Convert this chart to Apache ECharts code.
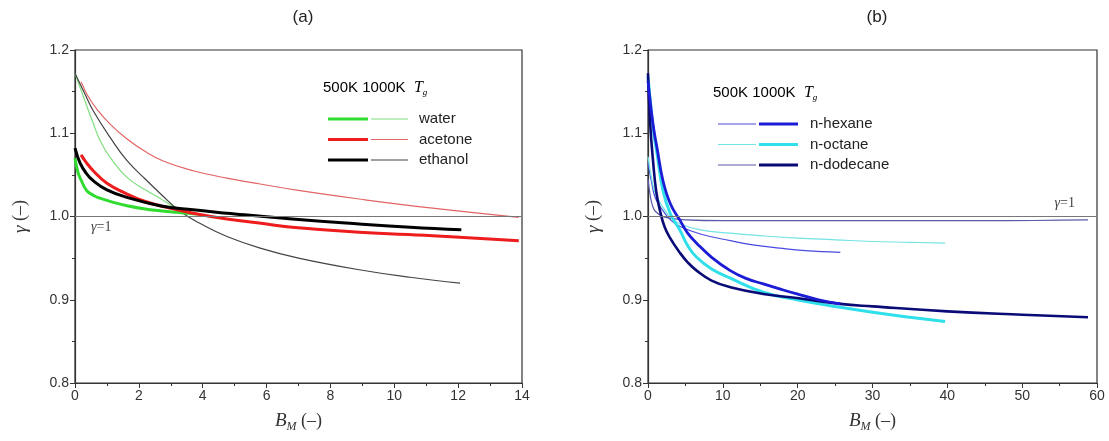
<!DOCTYPE html>
<html>
<head>
<meta charset="utf-8">
<script src="https://cdn.jsdelivr.net/npm/echarts@6/dist/echarts.min.js"></script>
<style>
  html, body { margin: 0; padding: 0; background: #fff; }
  #chart { width: 1109px; height: 441px; }
</style>
</head>
<body>
<div id="chart"></div>
<script>
// ---------- Panel (a) data : [B_M, gamma] ----------
const water500 = [[0,1.070],[0.1,1.052],[0.2,1.043],[0.37,1.031],[0.6,1.025],[0.78,1.022],[1.2,1.017],[1.63,1.013],[2.2,1.009],[2.66,1.007],[3.2,1.005],[3.8,1.003]];
const water1000 = [[0,1.172],[0.3,1.140],[0.57,1.112],[0.8,1.090],[1.1,1.071],[1.63,1.047],[2.2,1.032],[2.66,1.022],[3.0,1.014],[3.4,1.007],[3.9,1.001]];
const acetone500 = [[0.19,1.074],[0.35,1.065],[0.57,1.055],[1,1.040],[1.63,1.027],[2.2,1.018],[2.66,1.013],[3.7,1.004],[4.76,0.997],[6,0.991],[6.8,0.987],[8.9,0.981],[11.2,0.977],[13.9,0.971]];
const acetone1000 = [[0.19,1.162],[0.4,1.145],[0.7,1.128],[1.1,1.111],[1.6,1.094],[2.2,1.078],[2.8,1.066],[3.7,1.055],[4.76,1.046],[5.8,1.039],[7.05,1.031],[8.9,1.021],[11.2,1.010],[13.9,0.999]];
const ethanol500 = [[0,1.082],[0.16,1.064],[0.35,1.052],[0.57,1.043],[1,1.032],[1.63,1.023],[2.66,1.013],[3.7,1.008],[4.76,1.004],[6.8,0.997],[8.9,0.991],[10.5,0.987],[12.1,0.984]];
const ethanol1000 = [[0,1.172],[0.3,1.148],[0.57,1.127],[1.1,1.095],[1.63,1.067],[2.2,1.045],[2.66,1.028],[3.3,1.006],[4,0.990],[4.76,0.976],[5.8,0.962],[7,0.950],[8.9,0.936],[10.5,0.927],[12.06,0.920]];

// ---------- Panel (b) data ----------
const hexane500 = [[0,1.065],[0.5,1.040],[1,1.022],[2,1.007],[3,0.996],[4.3,0.988],[7,0.979],[11,0.971],[14,0.966],[17.6,0.962],[21,0.959],[25.7,0.957]];
const octane500 = [[0,1.072],[0.5,1.045],[1,1.027],[2,1.011],[3,0.999],[4.3,0.991],[7,0.984],[11,0.980],[15,0.977],[20,0.974],[25,0.972],[30,0.970],[35,0.969],[39.7,0.968]];
const dodecane500 = [[0,1.045],[0.3,1.025],[0.6,1.013],[1,1.006],[2,1.000],[3,0.998],[5,0.996],[10,0.995],[20,0.995],[30,0.995],[45,0.995],[58.8,0.996]];
const hexane1000 = [[0,1.163],[0.4,1.130],[0.8,1.103],[1.2,1.083],[2,1.043],[3,1.015],[4.3,0.995],[5.3,0.980],[6.5,0.968],[8.5,0.951],[11,0.935],[13,0.926],[15.4,0.919],[17.6,0.913],[19.9,0.907],[22.8,0.900],[25.7,0.895]];
const octane1000 = [[0,1.168],[0.4,1.130],[0.8,1.098],[1.2,1.076],[2,1.031],[3,1.003],[4.3,0.983],[5.3,0.965],[6.5,0.951],[8.5,0.937],[11,0.926],[15.4,0.909],[19.9,0.900],[25.7,0.891],[30,0.885],[35,0.879],[39.7,0.874]];
const dodecane1000 = [[0,1.172],[0.3,1.110],[0.7,1.064],[1.1,1.030],[1.6,1.007],[2.2,0.988],[2.9,0.975],[4.3,0.956],[5.3,0.945],[6.5,0.935],[8.5,0.923],[11,0.915],[15.4,0.907],[19.9,0.902],[25.7,0.895],[30,0.892],[40,0.886],[50,0.882],[58.8,0.879]];

// ---------- Labels ----------
const panelTitles = ['(a)', '(b)'];
const legendHeader = '500K 1000K';
const speciesA = ['water', 'acetone', 'ethanol'];
const speciesB = ['n-hexane', 'n-octane', 'n-dodecane'];

const tickFont = 'Liberation Sans, Arial, sans-serif';
const serif = 'Liberation Serif, Times New Roman, serif';

function mkSeries(name, data, gi, color, width, z) {
  return {
    name: name, type: 'line', xAxisIndex: gi, yAxisIndex: gi,
    data: data, showSymbol: false, symbol: 'none',
    smooth: 0.45,
    lineStyle: { color: color, width: width },
    itemStyle: { color: color },
    z: z, silent: true
  };
}

function refLine(pos) {
  return {
    silent: true, symbol: ['none', 'none'],
    lineStyle: { color: '#777', width: 1, type: 'solid' },
    label: {
      show: true, position: pos, distance: pos === 'insideStartBottom' ? [16, 4] : [22, 6],
      formatter: '{g|γ}{e|=1}',
      rich: {
        g: { fontFamily: serif, fontStyle: 'italic', fontSize: 14, color: '#444' },
        e: { fontFamily: serif, fontSize: 14, color: '#444' }
      }
    },
    data: [{ yAxis: 1 }]
  };
}

const series = [
  mkSeries('water 1000K', water1000, 0, '#7ede7e', 1.2, 2),
  mkSeries('acetone 1000K', acetone1000, 0, '#e26464', 1.2, 2),
  mkSeries('ethanol 1000K', ethanol1000, 0, '#444444', 1.2, 2),
  mkSeries('water 500K', water500, 0, '#2fdc2f', 3, 3),
  mkSeries('acetone 500K', acetone500, 0, '#ee1c1c', 3, 3),
  mkSeries('ethanol 500K', ethanol500, 0, '#000000', 3, 4),
  mkSeries('n-hexane 500K', hexane500, 1, '#4a4ae0', 1.2, 2),
  mkSeries('n-octane 500K', octane500, 1, '#72e4e4', 1.2, 2),
  mkSeries('n-dodecane 500K', dodecane500, 1, '#5a5aa8', 1.2, 2),
  mkSeries('n-octane 1000K', octane1000, 1, '#2fdfea', 3, 3),
  mkSeries('n-dodecane 1000K', dodecane1000, 1, '#0b0b78', 2.6, 3),
  mkSeries('n-hexane 1000K', hexane1000, 1, '#1c1cd6', 2.8, 4)
];
series[0].markLine = refLine('insideStartBottom');
series[6].markLine = refLine('insideEndTop');

function xAx(gi, max, interval) {
  return {
    gridIndex: gi, type: 'value', min: 0, max: max, interval: interval,
    name: '{b|B}{m|M}{n| (–)}', nameLocation: 'middle', nameGap: 26,
    nameTextStyle: {
      rich: {
        b: { fontFamily: serif, fontStyle: 'italic', fontSize: 19, color: '#333' },
        m: { fontFamily: serif, fontStyle: 'italic', fontSize: 12, color: '#333', verticalAlign: 'bottom', padding: [12, 0, 0, 0] },
        n: { fontFamily: serif, fontSize: 18, color: '#333' }
      }
    },
    axisLine: { show: true, onZero: false, lineStyle: { color: '#333', width: 1.2 } },
    axisTick: { show: true, length: 5, lineStyle: { color: '#333' } },
    minorTick: { show: true, splitNumber: 2, length: 3, lineStyle: { color: '#333' } },
    splitLine: { show: false },
    axisLabel: { fontFamily: tickFont, fontSize: 14, color: '#333', margin: 6 }
  };
}
function yAx(gi) {
  return {
    gridIndex: gi, type: 'value', min: 0.8, max: 1.2, interval: 0.1,
    name: '{g|γ}{n| (–)}', nameLocation: 'middle', nameGap: 45, nameRotate: 90,
    nameTextStyle: {
      rich: {
        g: { fontFamily: serif, fontStyle: 'italic', fontSize: 19, color: '#333' },
        n: { fontFamily: serif, fontSize: 18, color: '#333' }
      }
    },
    axisLine: { show: true, onZero: false, lineStyle: { color: '#333', width: 1.2 } },
    axisTick: { show: true, length: 5, lineStyle: { color: '#333' } },
    minorTick: { show: true, splitNumber: 2, length: 3, lineStyle: { color: '#333' } },
    splitLine: { show: false },
    axisLabel: { fontFamily: tickFont, fontSize: 14, color: '#333', margin: 6,
      formatter: v => v.toFixed(1) }
  };
}

function legendPair(names500, names1000, left500, left1000, top, thickFirst) {
  const rowText = { fontFamily: tickFont, fontSize: 15, color: '#222', lineHeight: 17 };
  return [
    {
      data: names500, orient: 'vertical', left: left500, top: top,
      icon: 'rect', itemWidth: thickFirst ? 40 : 38, itemHeight: thickFirst ? 3 : 1.2,
      itemGap: 3.5, formatter: () => ' ', textStyle: rowText,
      selectedMode: false
    },
    {
      data: names1000, orient: 'vertical', left: left1000, top: top,
      icon: 'rect', itemWidth: thickFirst ? 37 : 39, itemHeight: thickFirst ? 1.2 : 3,
      itemGap: 3.5, formatter: n => n.replace(' 1000K', ''),
      textStyle: Object.assign({ padding: [0, 0, 0, thickFirst ? 6 : 7] }, rowText),
      selectedMode: false
    }
  ];
}

const legends = [].concat(
  legendPair(speciesA.map(s => s + ' 500K'), speciesA.map(s => s + ' 1000K'), 323, 366, 105.5, true),
  legendPair(speciesB.map(s => s + ' 500K'), speciesB.map(s => s + ' 1000K'), 713, 754, 110.5, false)
);

function header(x, y) {
  return {
    type: 'text', left: x, top: y,
    style: {
      text: '{a|' + legendHeader + '}{s|  }{t|T}{g|g}',
      rich: {
        a: { fontFamily: tickFont, fontSize: 15, color: '#222' },
        s: { fontSize: 15 },
        t: { fontFamily: serif, fontStyle: 'italic', fontSize: 16, color: '#222' },
        g: { fontFamily: serif, fontStyle: 'italic', fontSize: 9, color: '#222', verticalAlign: 'bottom', padding: [10, 0, 0, 0] }
      }
    }
  };
}

const option = {
  animation: false,
  backgroundColor: '#fff',
  title: [
    { text: panelTitles[0], left: 298, top: 4, textAlign: 'center',
      textStyle: { fontFamily: tickFont, fontSize: 17, fontWeight: 'normal', color: '#222' } },
    { text: panelTitles[1], left: 872, top: 4, textAlign: 'center',
      textStyle: { fontFamily: tickFont, fontSize: 17, fontWeight: 'normal', color: '#222' } }
  ],
  grid: [
    { left: 75, top: 50, width: 447, height: 333, show: true, borderColor: '#333', borderWidth: 1.2, backgroundColor: 'transparent' },
    { left: 648, top: 50, width: 449, height: 333, show: true, borderColor: '#333', borderWidth: 1.2, backgroundColor: 'transparent' }
  ],
  xAxis: [xAx(0, 14, 2), xAx(1, 60, 10)],
  yAxis: [yAx(0), yAx(1)],
  legend: legends,
  graphic: [header(323, 80), header(713, 85)],
  series: series
};

const chart = echarts.init(document.getElementById('chart'), null, { renderer: 'canvas' });
chart.setOption(option);
</script>
</body>
</html>
